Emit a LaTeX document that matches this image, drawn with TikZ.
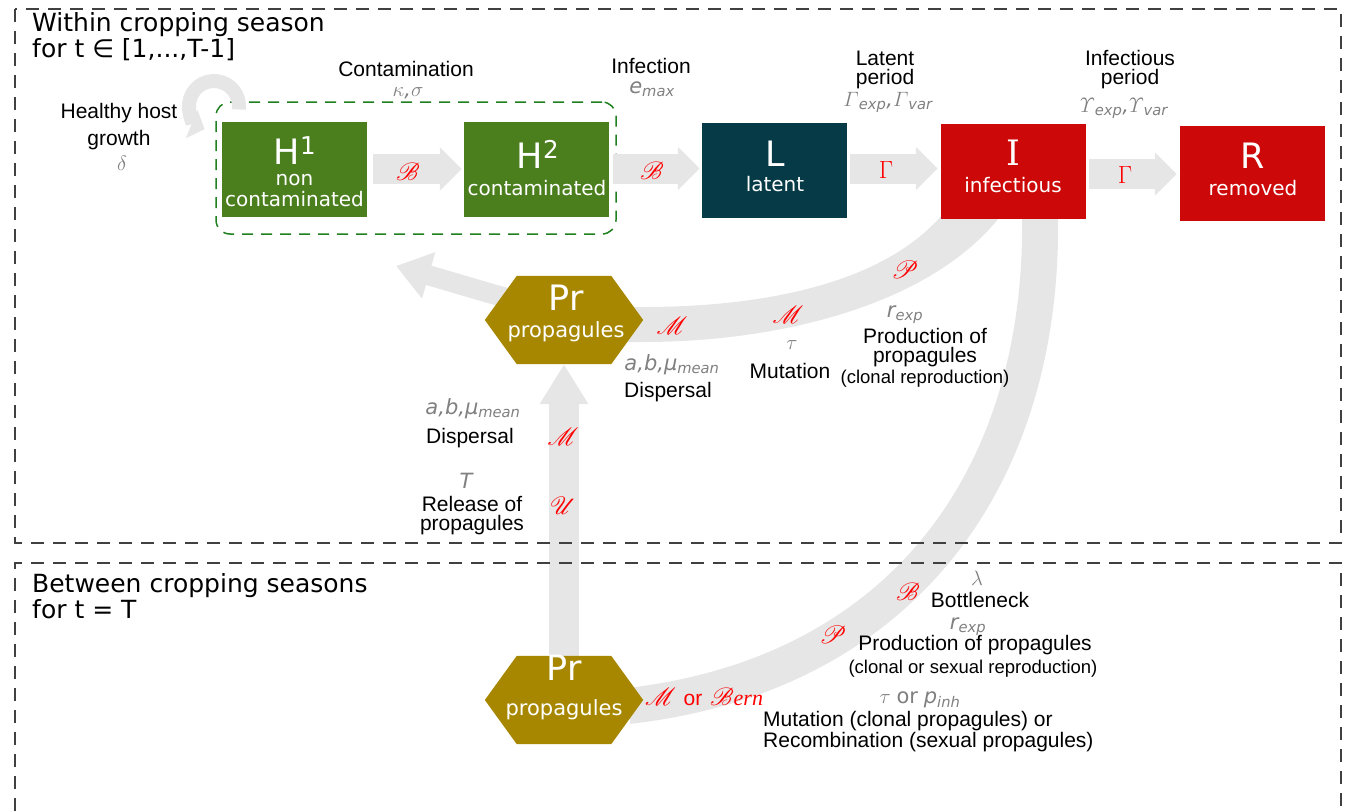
\documentclass[tikz,border=0pt]{standalone}
\usepackage{amsmath}
\usepackage{mathrsfs}
\usepackage{fontspec}
\setmainfont{Liberation Sans}
\newfontfamily\dv{DejaVu Sans}
\newfontfamily\dvs{DejaVu Serif}
\newfontfamily\lser{Liberation Serif}
\usetikzlibrary{arrows.meta}
\pgfdeclarelayer{bg}
\pgfsetlayers{bg,main}
\definecolor{hgreen}{RGB}{75,127,30}
\definecolor{lteal}{RGB}{6,58,71}
\definecolor{ired}{RGB}{204,8,8}
\definecolor{prgold}{RGB}{168,135,0}
\definecolor{bandc}{RGB}{230,230,230}
\definecolor{pgray}{RGB}{128,128,128}
\definecolor{dgreen}{RGB}{30,128,30}
\definecolor{dashc}{RGB}{64,64,64}
\newcommand\fsz[2]{\fontsize{#1pt}{#2pt}\selectfont}
\newcommand\gi[1]{{\dv\itshape #1}}
\newcommand\sbs[1]{\textsubscript{\dv\itshape #1}}
\begin{document}
\begin{tikzpicture}[x=1pt,y=-1pt,
  box/.style={minimum width=145pt,minimum height=95pt,inner sep=0pt},
  hexnode/.style={minimum width=158pt,minimum height=88pt,inner sep=0pt},
  big/.style={font=\dv\fsz{35}{35},text=white,anchor=base,inner sep=0pt},
  sub/.style={font=\dv\fsz{20}{20},text=white,anchor=base,inner sep=0pt},
  lbl/.style={font=\fsz{21}{21},anchor=base,inner sep=0pt},
  lbl2/.style={font=\fsz{21}{19},anchor=base,inner sep=0pt,align=center},
  sml/.style={font=\fsz{18.5}{18.5},anchor=base,inner sep=0pt},
  par/.style={font=\fsz{21}{21},text=pgray,anchor=base,inner sep=0pt},
  rd/.style={font=\fsz{28}{28},text=red,inner sep=0pt},
  rdg/.style={font=\fsz{25}{25},text=red,inner sep=0pt},
  ttl/.style={font=\dv\fsz{25}{22},anchor=base west,inner sep=0pt,align=left},
  blk/.style={draw=bandc,line width=30pt,-{Triangle[length=22pt,width=42pt]}},
  outer/.style={draw=dashc,line width=1.3pt,dash pattern=on 13pt off 9pt},
]
\useasboundingbox (0,0) rectangle (1346,811);

% frames
\draw[outer] (15,9) rectangle (1341,543);
\draw[outer] (15,811) -- (15,563) -- (1341,563) -- (1341,811);

% group of healthy hosts
\node[draw=dgreen,line width=1.5pt,dash pattern=on 11pt off 8pt,rounded corners=14pt,
      minimum width=400pt,minimum height=132pt,inner sep=0pt] (grp) at (416,168) {};

% compartments
\node[box,fill=hgreen] (H1) at (294.5,169.5) {};
\node[box,fill=hgreen] (H2) at (536.5,169.5) {};
\node[box,fill=lteal]  (L)  at (774.5,170.5) {};
\node[box,fill=ired]   (I)  at (1013.5,171) {};
\node[box,fill=ired]   (R)  at (1252.5,173) {};
\node[hexnode] (pr1) at (564,320) {};
\node[hexnode] (pr2) at (564,700) {};
\coordinate (hret) at (396,266);
\coordinate (loopc) at (214,106);

% background bands
\begin{pgfonlayer}{bg}
  \draw[bandc,line width=36pt] ([xshift=26.5pt,yshift=6pt]I.south)
     .. controls (1045,480) and (900,675) .. ([xshift=-15pt,yshift=-6pt]pr2.east);
  \fill[bandc] ([xshift=-73pt,yshift=2pt]I.south)
     .. controls (880,285) and (760,307) .. ([yshift=13pt]pr1.east)
     -- ([xshift=-30pt,yshift=13pt]pr1.east) -- ([xshift=-30pt,yshift=-22pt]pr1.east)
     -- ([yshift=-22pt]pr1.east)
     .. controls (780,342) and (930,305) .. ([xshift=-13.5pt,yshift=2pt]I.south) -- cycle;
  \draw[bandc,line width=20pt,-{Triangle[length=34pt,width=46pt]}]
     ([xshift=36pt,yshift=2pt]pr1.center) .. controls (540,310) and (480,290) .. (hret);
  \draw[bandc,line width=30pt,-{Triangle[length=40pt,width=46pt]}] (pr2.north) -- (pr1.south);
  \foreach \p in {pr1,pr2}{
    \fill[prgold] (\p.west) -- ([xshift=32pt]\p.north west) -- ([xshift=-32pt]\p.north east)
      -- (\p.east) -- ([xshift=-32pt]\p.south east) -- ([xshift=32pt]\p.south west) -- cycle;
  }
\end{pgfonlayer}

% self loop
\draw[bandc,line width=14pt,-{Triangle[length=14pt,width=30pt]}]
  ([shift={(8:25)}]loopc) arc[start angle=8,end angle=-248,radius=25];

% straight transitions
\draw[blk] ([xshift=6pt,yshift=0.5pt]H1.east) -- ([xshift=-2pt,yshift=0.5pt]H2.west);
\draw[blk] ([xshift=4pt,yshift=1pt]H2.east) -- ([xshift=-2pt,yshift=2pt]L.west);
\draw[blk] ([xshift=3pt,yshift=2pt]L.east) -- ([xshift=-3pt,yshift=2.5pt]I.west);
\draw[blk] ([xshift=3pt,yshift=-3pt]I.east) -- ([xshift=-3pt,yshift=-1pt]R.west);

% red operators on arrows
\node[rd] at (408,172) {$\mathscr{B}$};
\node[rd] at (652,171) {$\mathscr{B}$};
\node[rdg] at (886,170) {$\Gamma$};
\node[rdg] at (1125,175) {$\Gamma$};

% titles (anchor = baseline of last line)
\node[ttl] (t1) at (32,57) {Within cropping season\\for t ∈ [1,...,T-1]};
\node[ttl] (t3) at (32,618) {Between cropping seasons\\for t = T};

% compartment texts
\node[big] at (295,164) {H\textsuperscript{1}};
\node[sub,font=\dv\fsz{20}{21},align=center] at (294.5,206) {non\\contaminated};
\node[big] at (538,168) {H\textsuperscript{2}};
\node[sub] at (537,195) {contaminated};
\node[big] at (775,166) {L};
\node[sub] at (775,191) {latent};
\node[big,font=\dvs\fsz{35}{35}] at (1013,165) {I};
\node[sub] at (1013,192) {infectious};
\node[big] at (1253,168) {R};
\node[sub] at (1253,195) {removed};
\node[big] at (566,310) {Pr};
\node[sub,font=\dv\fsz{21}{21}] at (566,337) {propagules};
\node[big] at (564,680) {Pr};
\node[sub,font=\dv\fsz{21}{21}] at (564,715) {propagules};

% top labels
\node[lbl,font=\fsz{21}{27},align=center] at (119,145) {Healthy host\\growth};
\node[par] at (122,170) {$\delta$};
\node[lbl] at (406,76) {Contamination};
\node[par] at (408,96) {$\kappa$\gi{,}$\sigma$};
\node[lbl] at (651,73) {Infection};
\node[par] at (652,93) {\gi{e}\sbs{max}};
\node[lbl2] at (885,84) {Latent\\period};
\node[par] at (888,106) {$\varGamma$\sbs{exp}\gi{,}$\varGamma$\sbs{var}};
\node[lbl2] at (1130,84) {Infectious\\period};
\node[par] at (1124,112) {$\varUpsilon$\sbs{exp}\gi{,}$\varUpsilon$\sbs{var}};

% labels along the within-season production band
\node[rd] at (672,326) {$\mathscr{M}$};
\node[par] at (672,370) {\gi{a,b,μ}\sbs{mean}};
\node[lbl] at (668,397) {Dispersal};
\node[rd] at (788,315) {$\mathscr{M}$};
\node[par] at (792,349) {$\tau$};
\node[lbl] at (790,378) {Mutation};
\node[rd] at (905,270) {$\mathscr{P}$};
\node[par] at (905,317) {\gi{r}\sbs{exp}};
\node[lbl2] at (925,362) {Production of\\propagules};
\node[sml] at (925,383) {(clonal reproduction)};

% labels along the release band
\node[par] at (473,414) {\gi{a,b,μ}\sbs{mean}};
\node[lbl] at (470,443) {Dispersal};
\node[par] at (466,488) {\gi{T}};
\node[lbl2] at (472,530) {Release of\\propagules};
\node[rd] at (563,437) {$\mathscr{M}$};
\node[rd] at (563,506) {$\mathscr{U}$};

% labels along the between-season band
\node[rd] at (704,697) {$\mathscr{M}$ {\fsz{21}{21}or} $\mathscr{B}${\lser\itshape\fsz{22}{22}ern}};
\node[rd] at (833,635) {$\mathscr{P}$};
\node[rd] at (908,592) {$\mathscr{B}$};
\node[par] at (977,585) {$\lambda$};
\node[lbl] at (980,607) {Bottleneck};
\node[par] at (968,629) {\gi{r}\sbs{exp}};
\node[lbl] at (975,650) {Production of propagules};
\node[sml] at (973,673) {(clonal or sexual reproduction)};
\node[par] at (920,703) {$\tau$ {\dv or} \gi{p}\sbs{inh}};
\node[lbl,font=\fsz{21}{18.5},align=left,anchor=base west] at (763,747)
  {Mutation (clonal propagules) or\\Recombination (sexual propagules)};
\end{tikzpicture}
\end{document}
